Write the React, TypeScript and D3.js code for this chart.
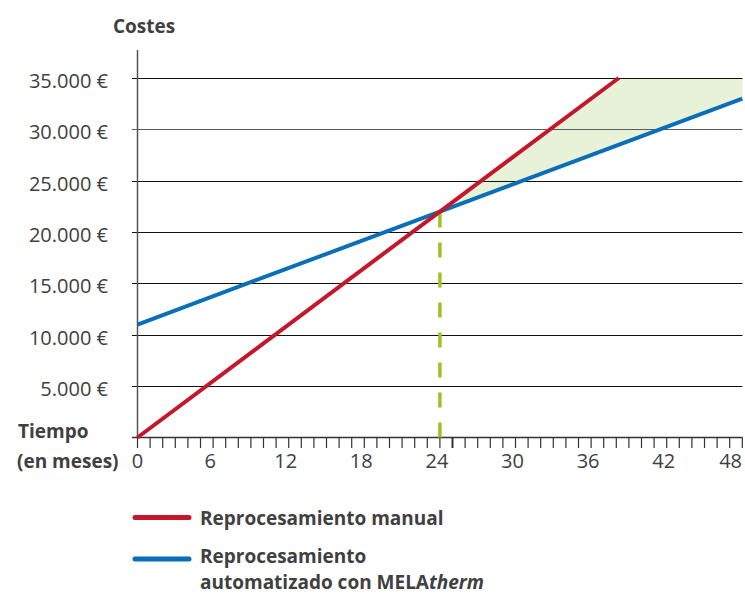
import React from "react";
import * as d3 from "d3";

const yTicks = [5000, 10000, 15000, 20000, 25000, 30000, 35000];
const xLabelTicks = [0, 6, 12, 18, 24, 30, 36, 42, 48];
const manualMonths = [0, 24, 38.2];
const manualCost = [0, 22000, 35000];
const autoMonths = [0, 24, 48];
const autoCost = [11000, 22000, 33000];
const breakEvenMonth = 24;
const breakEvenCost = 22000;
const capCost = 35000;

const W = 745;
const H = 595;
const FONT = "'Open Sans', 'Noto Sans', sans-serif";
const TEXT = "#404040";

export default function App() {
  const x = d3.scaleLinear().domain([0, 48]).range([137.5, 742.3]);
  const y = d3.scaleLinear().domain([0, 35000]).range([437.5, 78]);

  const manual = manualMonths.map((m, i) => [m, manualCost[i]] as [number, number]);
  const auto = autoMonths.map((m, i) => [m, autoCost[i]] as [number, number]);

  const interp = (pts: [number, number][], m: number) => {
    for (let i = 0; i < pts.length - 1; i++) {
      const [x0, y0] = pts[i];
      const [x1, y1] = pts[i + 1];
      if (m >= x0 && m <= x1) return y0 + ((m - x0) / (x1 - x0)) * (y1 - y0);
    }
    const [xa, ya] = pts[pts.length - 2];
    const [xb, yb] = pts[pts.length - 1];
    return ya + ((m - xa) / (xb - xa)) * (yb - ya);
  };

  const areaMonths = [breakEvenMonth, manualMonths[2], 48];
  const area = d3
    .area<number>()
    .x((m) => x(m))
    .y0((m) => y(interp(auto, m)))
    .y1((m) => y(Math.min(capCost, interp(manual, m))));

  const line = d3
    .line<[number, number]>()
    .x((d) => x(d[0]))
    .y((d) => y(d[1]));

  const minorTicks = d3.range(0, 49, 1);

  return (
    <svg
      width={W}
      height={H}
      style={{ position: "absolute", left: 0, top: 0, background: "#fff" }}
      fontFamily={FONT}
    >
      {/* shaded savings area */}
      <path d={area(areaMonths) || ""} fill="#e8f2d8" />

      {/* gridlines */}
      {yTicks.map((t) => (
        <line
          key={t}
          x1={132}
          x2={742.5}
          y1={Math.round(y(t)) + 0.5}
          y2={Math.round(y(t)) + 0.5}
          stroke={t === 30000 ? "#5a5a5a" : "#111"}
          strokeWidth={1.2}
        />
      ))}

      {/* y labels */}
      {yTicks.map((t) => (
        <text
          key={"l" + t}
          x={108}
          y={y(t) + 10}
          textAnchor="end"
          fontSize={20}
          fill={TEXT}
        >
          {d3.format(",")(t).replace(/,/g, ".") + " €"}
        </text>
      ))}

      {/* y axis */}
      <line x1={137.5} x2={137.5} y1={50} y2={438} stroke="#555" strokeWidth={1.5} />

      {/* x axis */}
      <line x1={132} x2={742.5} y1={437.5} y2={437.5} stroke="#333" strokeWidth={1.5} />
      {minorTicks.map((m) => (
        <line
          key={"t" + m}
          x1={x(m)}
          x2={x(m)}
          y1={437.5}
          y2={448}
          stroke="#333"
          strokeWidth={m === 25 ? 2 : 1.2}
        />
      ))}
      {xLabelTicks.map((m) => (
        <text
          key={"x" + m}
          x={m === 48 ? 742 : x(m) - (m === 0 ? 0 : 3)}
          y={468}
          textAnchor={m === 48 ? "end" : "middle"}
          fontSize={20}
          fill={TEXT}
        >
          {m}
        </text>
      ))}

      {/* break-even dashed line */}
      <line
        x1={x(breakEvenMonth)}
        x2={x(breakEvenMonth)}
        y1={y(0)}
        y2={y(breakEvenCost)}
        stroke="#9cc423"
        strokeWidth={3.5}
        strokeDasharray="15 15"
      />

      {/* series lines */}
      <path d={line(auto) || ""} fill="none" stroke="#0a6fb8" strokeWidth={4} />
      <path d={line(manual) || ""} fill="none" stroke="#c4172c" strokeWidth={4} />

      {/* titles */}
      <text x={113} y={33} fontSize={19} fontWeight="bold" fill={TEXT}>
        Costes
      </text>
      <text x={18} y={438} fontSize={19} fontWeight="bold" fill={TEXT}>
        Tiempo
      </text>
      <text x={17} y={468} fontSize={19} fontWeight="bold" fill={TEXT}>
        (en meses)
      </text>

      {/* legend */}
      <line x1={135} x2={189} y1={517.5} y2={517.5} stroke="#c4172c" strokeWidth={5} strokeLinecap="round" />
      <text x={200} y={525} fontSize={19} fontWeight="bold" fill={TEXT}>
        Reprocesamiento manual
      </text>
      <line x1={135} x2={189} y1={559} y2={559} stroke="#0a6fb8" strokeWidth={5} strokeLinecap="round" />
      <text x={200} y={563} fontSize={19} fontWeight="bold" fill={TEXT}>
        Reprocesamiento
      </text>
      <text x={200} y={589} fontSize={19} fontWeight="bold" fill={TEXT}>
        automatizado con MELA<tspan fontStyle="italic">therm</tspan>
      </text>
    </svg>
  );
}
